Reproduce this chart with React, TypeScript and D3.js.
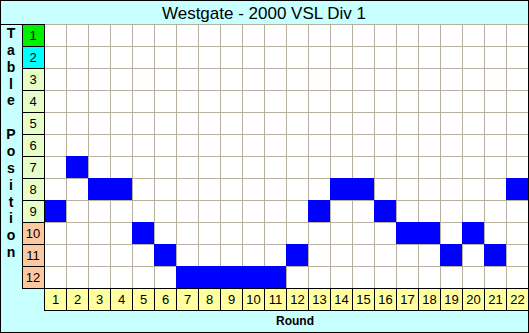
import React from "react";
import * as d3 from "d3";

const rounds = [1,2,3,4,5,6,7,8,9,10,11,12,13,14,15,16,17,18,19,20,21,22];
const positions = [9,7,8,8,10,11,12,12,12,12,12,11,9,8,8,9,10,10,11,10,11,8];
const tablePlaces = [1,2,3,4,5,6,7,8,9,10,11,12];
const title = "Westgate - 2000 VSL Div 1";
const xTitle = "Round";
const yTitle = "Table Position";

const W = 529, H = 333;
const left = 44, top = 24, right = 528, bottom = 288;

function placeColor(p: number) {
  if (p === 1) return "#00f000";
  if (p === 2) return "#00ffff";
  if (p <= 9) return "#e6ffc8";
  return "#fcc8a0";
}

export default function App() {
  const x = d3.scaleBand<number>().domain(rounds).range([left, right]);
  const y = d3.scaleBand<number>().domain(tablePlaces).range([top, bottom]);
  const bw = x.bandwidth();
  const bh = y.bandwidth();
  const font = "'Liberation Sans', Arial, sans-serif";
  return (
    <svg width={W} height={H} style={{ position: "absolute", left: 0, top: 0 }} fontFamily={font}>
      <rect x={0.5} y={0.5} width={W - 1} height={H - 1} fill="#c8ffff" stroke="#000" />
      <line x1={0} x2={W} y1={24.5} y2={24.5} stroke="#000" />
      <text x={264} y={19} textAnchor="middle" fontSize={17}>{title}</text>
      {/* plot area */}
      <rect x={left} y={top} width={right - left} height={bottom - top} fill="#fff" />
      {rounds.map((r) => (
        <line key={"vx" + r} x1={x(r)! + 0.5} x2={x(r)! + 0.5} y1={top} y2={bottom} stroke="#b8b0a0" />
      ))}
      {tablePlaces.map((p) => (
        <line key={"hy" + p} x1={left} x2={right} y1={y(p)! + 0.5} y2={y(p)! + 0.5} stroke="#b8b0a0" />
      ))}
      {rounds.map((r, i) => (
        <rect key={"c" + r} x={x(r)!} y={y(positions[i])!} width={bw} height={bh} fill="#0000ff" />
      ))}
      {/* left place labels */}
      {tablePlaces.map((p) => (
        <g key={"pl" + p}>
          <rect x={22.5} y={y(p)! + 0.5} width={bw} height={bh} fill={placeColor(p)} stroke="#000" />
          <text x={22 + bw / 2} y={y(p)! + bh / 2 + 5} textAnchor="middle" fontSize={13}>{p}</text>
        </g>
      ))}
      {/* bottom round labels */}
      {rounds.map((r) => (
        <g key={"rl" + r}>
          <rect x={x(r)! + 0.5} y={bottom + 0.5} width={bw} height={bh} fill="#ffffa0" stroke="#000" />
          <text x={x(r)! + bw / 2 + 0.5} y={bottom + bh / 2 + 5} textAnchor="middle" fontSize={13}>{r}</text>
        </g>
      ))}
      <text x={295} y={325} textAnchor="middle" fontSize={12} fontWeight="bold">{xTitle}</text>
      {yTitle.split("").map((ch, i) => (
        <text key={"yt" + i} x={11} y={38 + i * 16.85} textAnchor="middle" fontSize={14} fontWeight="bold">{ch}</text>
      ))}
    </svg>
  );
}
